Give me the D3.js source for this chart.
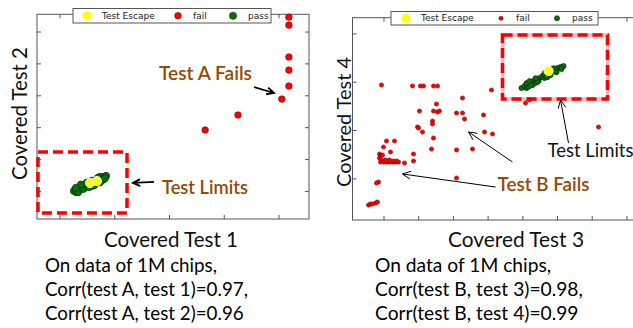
<!DOCTYPE html>
<html>
<head>
<meta charset="utf-8">
<script src="https://cdn.jsdelivr.net/npm/d3@7"></script>
<style>
body { margin: 0; background: #fff; }
svg { display: block; }
</style>
</head>
<body>
<svg></svg>
<script>
var width = 633;
var height = 328;

var seriesNames = ["Test Escape", "fail", "pass"];

// tick positions (no labels on the original)
var leftXTicks = [1, 2, 3, 4, 5];
var leftYTicks = [1, 2, 3, 4, 5, 6];
var rightXTicks = [1, 2, 3, 4, 5, 6, 7, 8];
var rightYTicks = [1, 2, 3, 4];

// test 1 vs test 2
var leftFail = [[5.19, 6.45], [5.19, 6.20], [5.19, 5.20], [5.19, 4.79], [5.19, 4.29],
                [5.06, 3.88], [4.26, 3.38], [3.66, 2.91]];
var leftPass = [[1.265, 1.00], [1.320, 1.03], [1.374, 1.06], [1.411, 1.13], [1.466, 1.16],
                [1.521, 1.19], [1.557, 1.22], [1.612, 1.25], [1.667, 1.31], [1.721, 1.34],
                [1.776, 1.41], [1.813, 1.44], [1.849, 1.47], [1.356, 1.09], [1.447, 1.09],
                [1.502, 1.25], [1.648, 1.22], [1.740, 1.44], [1.301, 0.97], [1.594, 1.16],
                [1.430, 1.06], [1.392, 1.20], [1.540, 1.12], [1.502, 1.26], [1.631, 1.18],
                [1.593, 1.32], [1.740, 1.27], [1.702, 1.41], [1.339, 0.96], [1.301, 1.10],
                [1.795, 1.35], [1.830, 1.40]];
var leftEscape = [[1.557, 1.25], [1.685, 1.31]];

// test 3 vs test 4
var rightFail = [[0.942, 2.932], [1.836, 2.911], [2.066, 2.911], [2.153, 2.911], [2.441, 2.911],
                 [2.556, 2.911], [4.112, 2.828], [2.527, 2.538], [3.277, 2.663], [5.092, 2.559],
                 [5.207, 2.621], [2.037, 2.393], [2.441, 2.393], [2.556, 2.373], [2.614, 2.393],
                 [3.104, 2.352], [3.277, 2.352], [3.334, 2.228], [3.882, 2.311], [2.412, 2.186],
                 [2.412, 2.124], [1.980, 2.062], [2.009, 2.041], [2.124, 1.959], [3.911, 1.959],
                 [4.141, 1.917], [7.196, 2.062], [2.441, 1.834], [1.086, 1.772], [1.317, 1.772],
                 [1.000, 1.648], [1.202, 1.545], [2.383, 1.607], [3.104, 1.586], [3.565, 1.607],
                 [1.865, 1.503], [1.865, 1.358], [1.605, 1.317], [3.104, 1.006],
                 [0.885, 1.503], [0.914, 1.462], [0.885, 1.420], [0.942, 1.379], [0.914, 1.337],
                 [1.000, 1.337], [1.086, 1.337], [1.173, 1.337], [1.259, 1.337], [1.346, 1.337],
                 [1.432, 1.337], [1.058, 1.379], [1.173, 1.379], [1.288, 1.358], [0.971, 1.482],
                 [1.375, 1.358], [0.856, 0.923], [0.798, 0.903],
                 [0.568, 0.447], [0.625, 0.468], [0.683, 0.468], [0.769, 0.489], [0.827, 0.509]];
var rightPass = [[4.977, 2.870], [5.063, 2.911], [5.150, 2.932], [5.236, 2.973], [5.323, 3.014],
                 [5.409, 3.035], [5.496, 3.077], [5.582, 3.118], [5.669, 3.139], [5.755, 3.180],
                 [5.841, 3.222], [5.928, 3.242], [6.014, 3.284], [6.101, 3.304], [6.187, 3.325],
                 [5.121, 2.870], [5.294, 2.932], [5.467, 3.014], [5.640, 3.077], [5.813, 3.139],
                 [5.986, 3.201], [6.130, 3.263], [5.380, 2.973], [5.726, 3.097],
                 [5.177, 2.895], [5.123, 2.969], [5.436, 2.999], [5.382, 3.072], [5.696, 3.103],
                 [5.642, 3.176], [5.955, 3.206], [5.901, 3.279], [5.263, 2.937], [5.209, 3.010]];
var rightEscape = [[5.755, 3.222]];

var xLabels = ["Covered Test 1", "Covered Test 3"];
var yLabels = ["Covered Test 2", "Covered Test 4"];
var leftNotes = ["On data of 1M chips,", "Corr(test A, test 1)=0.97,", "Corr(test A, test 2)=0.96"];
var rightNotes = ["On data of 1M chips,", "Corr(test B, test 3)=0.98,", "Corr(test B, test 4)=0.99"];

var brown = "#974806";
var font = "Lato, 'Open Sans', sans-serif";

var panels = [
    {
        x0: 37, x1: 309, y0: 14.3, y1: 219,
        xDomain: [0.589, 5.557], yDomain: [0.12, 6.54],
        xTicks: leftXTicks, yTicks: leftYTicks,
        fail: leftFail, pass: leftPass, escape: leftEscape,
        failR: 3.3, passR: 3.6, escR: 4.6,
        legend: {x: 73, y: 8.5, w: 198, h: 14.5, items: [87, 178, 233]},
        limitBox: [0.607, 2.22, 2.233, 0.31], pinkBox: false,
        arrows: [[4.553, 4.260, 4.918, 4.072], [2.726, 1.282, 2.342, 1.251]], arrowW: 1.8,
        texts: [["Test A Fails", 2.817, 4.480, 93, brown, 600],
                ["Test Limits", 2.872, 0.906, 86, brown, 600]],
        xLabel: xLabels[0], xLabelX: 171, xLabelW: 134,
        yLabel: yLabels[0], yLabelX: 27, yLabelY: 113.5, yLabelW: 133,
        notes: leftNotes, notesX: 45, notesW: 203
    },
    {
        x0: 352.5, x1: 640, y0: 17.7, y1: 220,
        xDomain: [0.107, 8.391], yDomain: [0.137, 4.325],
        xTicks: rightXTicks, yTicks: rightYTicks,
        fail: rightFail, pass: rightPass, escape: rightEscape,
        failR: 2.1, passR: 2.6, escR: 4.6,
        legend: {x: 391, y: 11.5, w: 207, h: 13.5, items: [406, 501, 557]},
        limitBox: [4.429, 3.967, 7.455, 2.642], pinkBox: true,
        arrows: [[4.718, 1.337, 3.450, 1.959], [4.228, 0.820, 1.548, 1.089], [6.331, 1.731, 6.101, 2.621]], arrowW: 1,
        texts: [["Test B Fails", 4.285, 0.737, 92, brown, 600],
                ["Test Limits", 5.726, 1.441, 86, "#111", 400]],
        xLabel: xLabels[1], xLabelX: 516, xLabelW: 136,
        yLabel: yLabels[1], yLabelX: 351, yLabelY: 122, yLabelW: 130,
        notes: rightNotes, notesX: 375, notesW: 208
    }
];

var svg = d3.select("svg")
            .attr("width", width)
            .attr("height", height);

svg.append("rect").attr("width", width).attr("height", height).attr("fill", "#fff");

// scale a text's font size so it spans the given width
function fit(sel, w) {
    var len = sel.node().getComputedTextLength();
    var fs = parseFloat(sel.attr("font-size"));
    sel.attr("font-size", (fs * w / len).toFixed(2));
    return sel;
}

function arrow(g, x1, y1, x2, y2, sw) {
    var a = Math.atan2(y2 - y1, x2 - x1);
    var hl = sw > 1.5 ? 8 : 9, ha = 0.45;
    var p = d3.path();
    p.moveTo(x1, y1); p.lineTo(x2, y2);
    p.moveTo(x2 - hl * Math.cos(a - ha), y2 - hl * Math.sin(a - ha));
    p.lineTo(x2, y2);
    p.lineTo(x2 - hl * Math.cos(a + ha), y2 - hl * Math.sin(a + ha));
    g.append("path").attr("d", p.toString())
        .attr("fill", "none").attr("stroke", "#000")
        .attr("stroke-width", sw).attr("stroke-linejoin", "miter");
}

panels.forEach(function(p) {
    var x = d3.scaleLinear().domain(p.xDomain).range([p.x0, p.x1]);
    var y = d3.scaleLinear().domain(p.yDomain).range([p.y1, p.y0]);
    var g = svg.append("g");

    // frame
    g.append("rect")
        .attr("x", p.x0).attr("y", p.y0)
        .attr("width", p.x1 - p.x0).attr("height", p.y1 - p.y0)
        .attr("fill", "none").attr("stroke", "#555").attr("stroke-width", 1);

    // inward ticks on all four sides
    var axes = [
        [d3.axisBottom(x).tickValues(p.xTicks), "translate(0," + p.y1 + ")"],
        [d3.axisTop(x).tickValues(p.xTicks), "translate(0," + p.y0 + ")"],
        [d3.axisLeft(y).tickValues(p.yTicks), "translate(" + p.x0 + ",0)"],
        [d3.axisRight(y).tickValues(p.yTicks), "translate(" + p.x1 + ",0)"]
    ];
    axes.forEach(function(a) {
        var ax = g.append("g").attr("transform", a[1])
            .call(a[0].tickSize(-4).tickSizeOuter(0).tickFormat(""));
        ax.select(".domain").remove();
        ax.selectAll("line").attr("stroke", "#555");
    });

    // dashed "test limits" box
    var b = p.limitBox;
    if (p.pinkBox) {
        g.append("rect")
            .attr("x", x(b[0])).attr("y", y(b[1]))
            .attr("width", x(b[2]) - x(b[0])).attr("height", y(b[3]) - y(b[1]))
            .attr("fill", "none").attr("stroke", "#f6b8b8").attr("stroke-width", 3.5);
    }
    g.append("rect")
        .attr("x", x(b[0])).attr("y", y(b[1]))
        .attr("width", x(b[2]) - x(b[0])).attr("height", y(b[3]) - y(b[1]))
        .attr("fill", "none").attr("stroke", "#ff0000")
        .attr("stroke-width", 3.5).attr("stroke-dasharray", "10,5");

    // points
    g.selectAll(".fail").data(p.fail).enter().append("circle")
        .attr("cx", d => x(d[0])).attr("cy", d => y(d[1])).attr("r", p.failR)
        .attr("fill", "#ff0000").attr("stroke", "#7a0000").attr("stroke-width", 0.6);
    g.selectAll(".pass").data(p.pass).enter().append("circle")
        .attr("cx", d => x(d[0])).attr("cy", d => y(d[1])).attr("r", p.passR)
        .attr("fill", "#0a6e0a").attr("stroke", "#022e02").attr("stroke-width", 0.7);
    g.selectAll(".esc").data(p.escape).enter().append("circle")
        .attr("cx", d => x(d[0])).attr("cy", d => y(d[1])).attr("r", p.escR)
        .attr("fill", "#ffff00").attr("stroke", "#f4f4d0").attr("stroke-width", 1);

    // legend
    var L = p.legend;
    var lg = g.append("g");
    lg.append("rect").attr("x", L.x).attr("y", L.y).attr("width", L.w).attr("height", L.h)
        .attr("fill", "#fff").attr("stroke", "#555").attr("stroke-width", 1);
    var cy = L.y + L.h / 2;
    var legendStyle = [["#ffff00", "#f4f4d0", 4.6], ["#ff0000", "#7a0000", p.failR], ["#0a6e0a", "#022e02", p.passR]];
    seriesNames.forEach(function(name, i) {
        lg.append("circle").attr("cx", L.items[i]).attr("cy", cy).attr("r", legendStyle[i][2])
            .attr("fill", legendStyle[i][0]).attr("stroke", legendStyle[i][1]).attr("stroke-width", 0.6);
        lg.append("text").attr("x", L.items[i] + 15).attr("y", cy + 3.2)
            .attr("font-family", "'DejaVu Sans', sans-serif").attr("font-size", 9)
            .attr("fill", "#222").text(name);
    });

    // annotations
    p.arrows.forEach(function(a) {
        arrow(g, x(a[0]), y(a[1]), x(a[2]), y(a[3]), p.arrowW);
    });
    p.texts.forEach(function(t) {
        var s = g.append("text").attr("x", x(t[1])).attr("y", y(t[2]))
            .attr("font-family", font).attr("font-size", 18)
            .attr("font-weight", t[5]).attr("fill", t[4]).text(t[0]);
        fit(s, t[3]);
    });

    // axis titles
    var xl = svg.append("text").attr("x", p.xLabelX).attr("y", 247)
        .attr("text-anchor", "middle").attr("font-family", font).attr("font-size", 18)
        .attr("fill", "#111").text(p.xLabel);
    fit(xl, p.xLabelW);
    var yl = svg.append("text")
        .attr("transform", "translate(" + p.yLabelX + "," + p.yLabelY + ") rotate(-90)")
        .attr("text-anchor", "middle").attr("font-family", font).attr("font-size", 18)
        .attr("fill", "#111").text(p.yLabel);
    fit(yl, p.yLabelW);

    // notes under the chart
    var notes = svg.append("g");
    p.notes.forEach(function(line, i) {
        var t = notes.append("text").attr("x", p.notesX).attr("y", 272 + i * 24)
            .attr("font-family", font).attr("font-size", 17)
            .attr("fill", "#000").text(line);
        if (i === 1) fit(t, p.notesW);
    });
    var fs = notes.selectAll("text").filter((d, i) => i === 1).attr("font-size");
    notes.selectAll("text").attr("font-size", fs);
});
</script>
</body>
</html>
